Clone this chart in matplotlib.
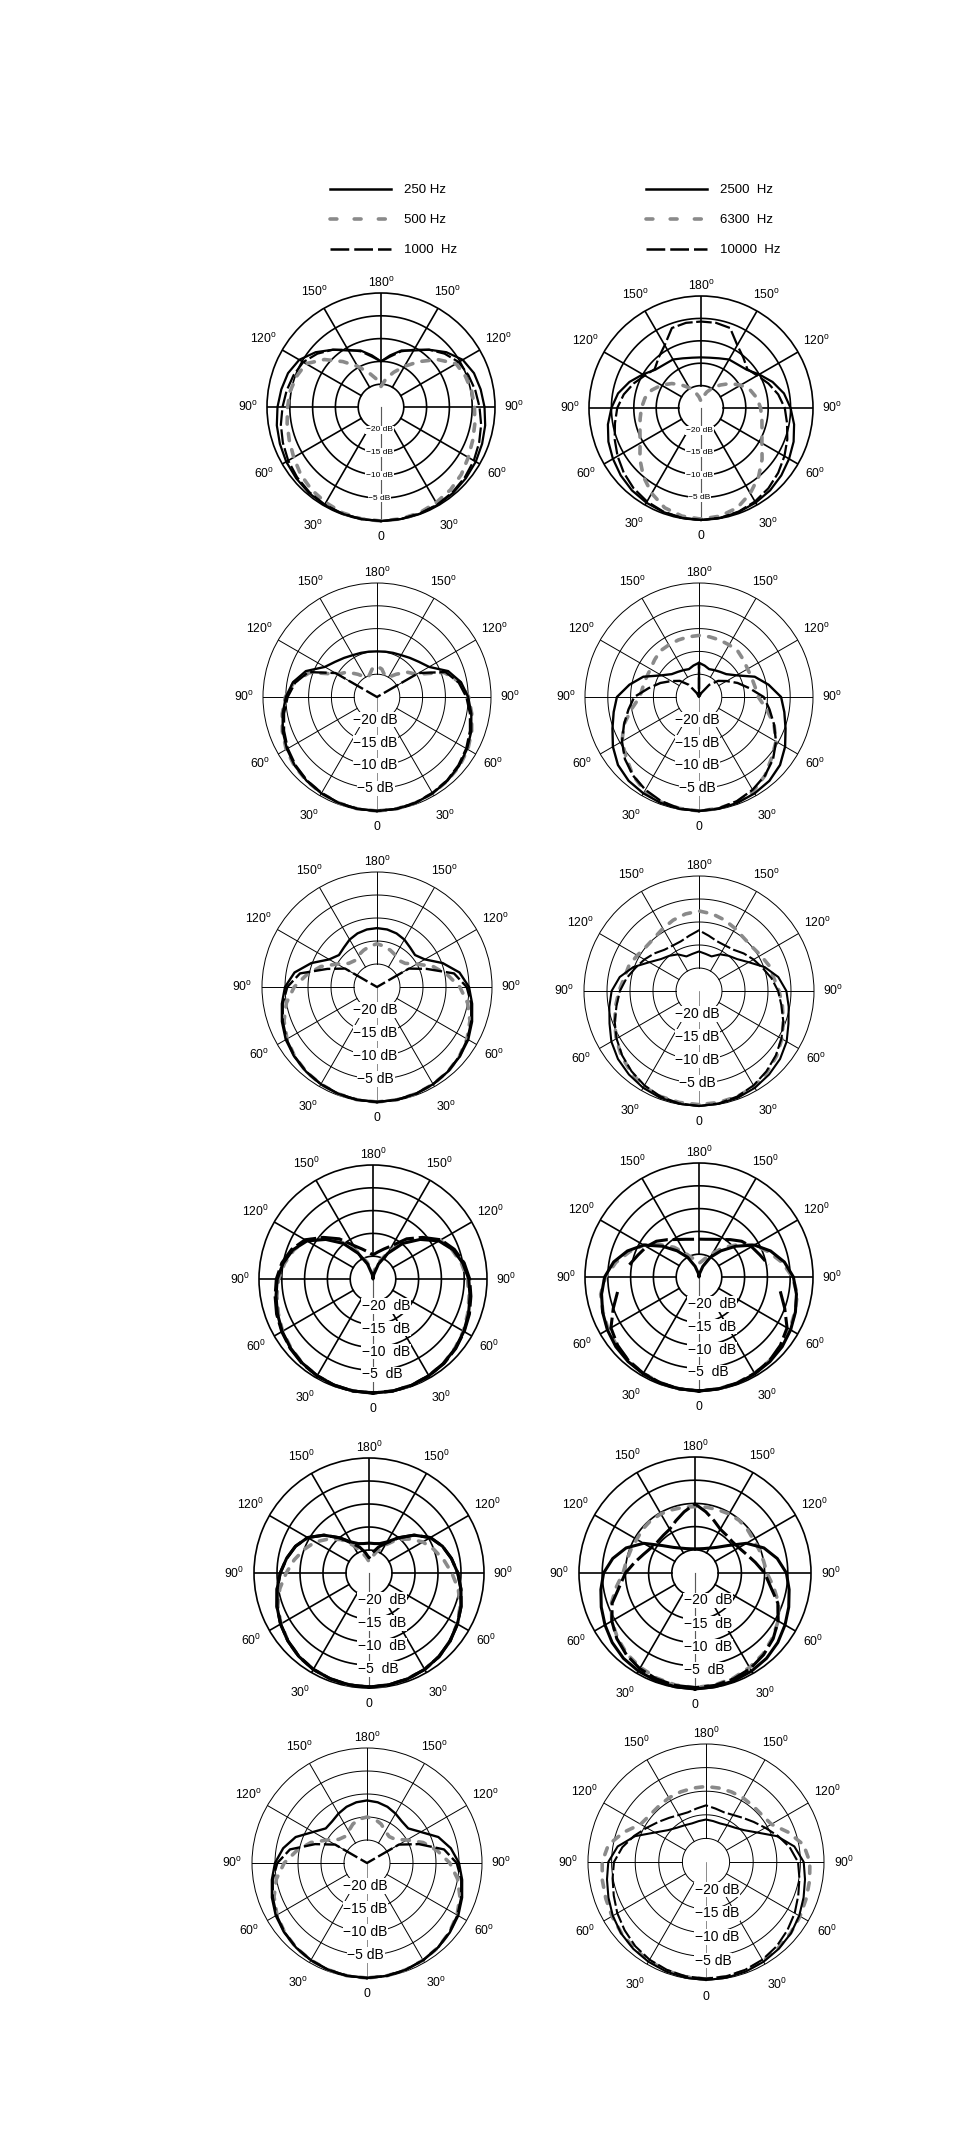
import numpy as np
import matplotlib
matplotlib.use('Agg')
import matplotlib.pyplot as plt
from matplotlib.lines import Line2D

plt.rcParams['font.family'] = ['Liberation Sans', 'DejaVu Sans']
plt.rcParams['mathtext.fontset'] = 'custom'
plt.rcParams['mathtext.rm'] = 'Liberation Sans'

# ---------------------------------------------------------------------------
# data: level in dB at 0, 10, ..., 180 degrees (0 = front), mirrored for the
# other half of each diagram
half_deg = np.arange(0, 181, 10)

freqs_low = ['250 Hz', '500 Hz', '1000  Hz']
freqs_high = ['2500  Hz', '6300  Hz', '10000  Hz']

ring_db = [-20, -15, -10, -5]
spoke_deg = [0, 30, 60, 90, 120, 150, 180, 210, 240, 270, 300, 330]
angle_ticks = [0, 30, 60, 90, 120, 150, 180]

# row 1
r1l_250 = [0, -0.05, -0.1, -0.2, -0.4, -0.7, -1.0, -1.4, -1.8, -2.3, -2.8, -3.3, -4.3, -6.3, -8.6, -10.7, -11.8, -13.5, -15.0]
r1l_500 = [0, -0.1, -0.3, -0.8, -1.3, -2.0, -2.9, -3.6, -4.1, -4.5, -4.8, -5.3, -6.0, -8.8, -12.0, -14.7, -16.9, -18.7, -20.5]
r1l_1000 = [0, -0.05, -0.15, -0.3, -0.6, -1.0, -1.5, -2.1, -2.7, -3.4, -4.0, -4.6, -5.3, -6.8, -8.6, -10.5, -12.0, -13.8, -15.0]
r1r_2500 = [0, -0.1, -0.3, -0.6, -1.0, -1.6, -2.3, -3.0, -3.9, -5.0, -6.2, -8.0, -10.0, -11.7, -12.3, -12.5, -13.2, -13.6, -13.7]
r1r_6300 = [-0.2, -0.5, -1.3, -3.0, -5.0, -7.2, -9.3, -10.5, -11.2, -11.7, -12.3, -13.3, -14.8, -16.5, -18.3, -19.8, -21.2, -22.5, -23.5]
r1r_10000 = [0, -0.1, -0.4, -0.9, -1.6, -2.5, -3.5, -4.5, -5.5, -6.3, -7.5, -9.0, -10.5, -11.5, -10.3, -8.8, -6.0, -5.7, -5.7]

# row 2
r2l_250 = [0, -0.1, -0.3, -0.6, -1.0, -1.5, -2.2, -3.0, -4.0, -5.0, -6.3, -8.4, -11.8, -13.0, -13.8, -14.4, -14.7, -14.9, -15.0]
r2l_500 = [0, -0.1, -0.3, -0.6, -1.0, -1.4, -2.0, -2.9, -3.9, -4.9, -6.5, -9.3, -15.0, -16.5, -18.5, -20.0, -20.0, -18.8, -18.2]
r2l_1000 = [0, -0.1, -0.3, -0.7, -1.1, -1.7, -2.4, -3.3, -4.3, -5.4, -6.8, -9.0, -14.5, -25.0, -25.0, -25.0, -25.0, -25.0, -25.0]
r2r_2500 = [0, -0.1, -0.3, -0.6, -1.0, -1.8, -3.2, -4.8, -6.0, -7.0, -9.5, -12.0, -15.5, -17.2, -17.8, -18.2, -18.5, -18.0, -17.5]
r2r_6300 = [0, -0.2, -0.5, -1.2, -2.5, -4.2, -5.5, -7.5, -10.0, -12.0, -12.5, -12.7, -12.7, -12.3, -11.8, -11.8, -11.7, -11.6, -11.5]
r2r_10000 = [0, -0.2, -0.7, -1.5, -2.5, -3.8, -5.5, -7.5, -9.3, -10.8, -13.8, -16.0, -18.0, -19.5, -21.5, -24.0, -25.0, -25.0, -17.5]

# row 3
r3l_250 = [0, -0.1, -0.3, -0.6, -1.0, -1.5, -2.1, -3.0, -4.0, -5.0, -6.8, -9.8, -13.0, -14.2, -13.8, -13.1, -12.6, -12.3, -12.2]
r3l_500 = [0, -0.1, -0.3, -0.6, -1.0, -1.6, -2.4, -3.5, -5.0, -7.0, -9.5, -12.0, -15.0, -17.0, -17.5, -17.0, -16.5, -16.0, -15.6]
r3l_1000 = [0, -0.1, -0.3, -0.6, -1.0, -1.6, -2.3, -3.2, -4.2, -5.5, -8.0, -13.5, -17.0, -25.0, -25.0, -25.0, -25.0, -25.0, -25.0]
r3r_2500 = [0, -0.1, -0.3, -0.7, -1.3, -2.0, -3.0, -4.3, -5.2, -6.0, -7.5, -9.8, -12.5, -14.2, -15.0, -15.8, -17.0, -16.8, -16.4]
r3r_6300 = [-0.3, -0.4, -0.6, -1.0, -2.0, -3.0, -4.2, -5.5, -6.6, -7.6, -8.5, -8.8, -9.5, -10.0, -9.9, -9.3, -8.6, -8.0, -7.6]
r3r_10000 = [0, -0.2, -0.6, -1.3, -2.2, -3.2, -4.3, -5.5, -6.8, -7.8, -9.0, -10.3, -11.3, -12.3, -13.3, -13.6, -13.5, -12.8, -11.8]

# row 4
r4l_250 = [0, -0.05, -0.2, -0.5, -0.9, -1.4, -2.0, -2.7, -3.4, -4.0, -5.0, -6.3, -8.3, -11.5, -14.8, -18.5, -21.5, -24.0, -25.0]
r4l_500 = [0, -0.05, -0.2, -0.5, -0.9, -1.5, -2.1, -2.9, -3.6, -4.3, -5.3, -6.5, -8.0, -11.0, -14.5, -18.0, -21.0, -23.0, -24.0]
r4l_1000 = [0, -0.05, -0.2, -0.5, -0.8, -1.3, -1.9, -2.5, -3.2, -3.8, -4.7, -6.0, -7.8, -10.8, -13.5, -16.5, -18.0, -19.0, -19.7]
r4r_2500 = [0, -0.1, -0.2, -0.5, -0.8, -1.2, -1.8, -2.5, -3.3, -4.3, -6.0, -8.3, -11.0, -14.5, -17.5, -20.0, -22.5, -24.2, -25.0]
r4r_6300 = [0, -0.1, -0.3, -0.6, -1.0, -1.5, -2.0, -2.6, -3.1, -4.5, -6.5, -8.8, -11.0, -14.0, -16.5, -19.0, -20.5, -21.5, -22.0]
r4r_10000 = [0, -0.1, -0.3, -0.6, -1.0, -1.7, -2.7, -5.0, -6.9, np.nan, -9.5, -10.8, -11.7, -12.8, -14.3, -15.5, -16.2, -16.6, -16.7]

# row 5
r5l_250 = [-0.2, -0.3, -0.5, -0.8, -1.3, -2.0, -2.8, -3.7, -4.7, -5.7, -6.8, -8.0, -9.6, -12.2, -15.0, -17.2, -18.2, -18.5, -18.5]
r5l_500 = [-0.2, -0.3, -0.5, -0.8, -1.3, -2.0, -2.9, -3.9, -5.3, -7.0, -8.5, -10.0, -11.5, -13.5, -15.5, -18.0, -20.0, -21.5, -22.5]
r5l_1000 = [-0.2, -0.3, -0.5, -0.8, -1.3, -2.0, -2.8, -3.7, -4.7, -5.7, -6.8, -8.0, -9.6, -12.2, -15.0, -17.5, -19.0, -20.5, -21.7]
r5r_2500 = [0, -0.1, -0.3, -0.6, -1.0, -1.7, -2.6, -3.5, -4.4, -5.3, -7.0, -9.2, -12.2, -15.8, -17.8, -18.8, -19.4, -19.7, -19.8]
r5r_6300 = [-0.3, -0.5, -0.9, -1.5, -2.2, -3.2, -4.3, -5.8, -7.8, -9.5, -10.0, -10.3, -10.5, -10.3, -10.2, -10.3, -10.5, -10.6, -10.7]
r5r_10000 = [-0.3, -0.4, -0.7, -1.2, -2.0, -3.0, -4.3, -6.0, -8.5, -10.0, -11.8, -13.2, -14.1, -14.5, -14.4, -14.1, -13.0, -11.6, -10.1]

# row 6
r6l_250 = [0, -0.1, -0.3, -0.6, -1.0, -1.5, -2.1, -3.0, -4.0, -5.0, -6.5, -8.5, -11.5, -13.3, -13.2, -12.6, -12.0, -11.6, -11.4]
r6l_500 = [0, -0.1, -0.3, -0.6, -1.0, -1.6, -2.4, -3.5, -5.0, -7.0, -9.5, -12.0, -15.0, -17.0, -17.5, -17.0, -16.0, -15.3, -15.0]
r6l_1000 = [0, -0.1, -0.3, -0.6, -1.0, -1.6, -2.3, -3.2, -4.2, -5.5, -8.0, -13.0, -17.0, -25.0, -25.0, -25.0, -25.0, -25.0, -25.0]
r6r_2500 = [0, -0.1, -0.3, -0.6, -1.0, -1.5, -2.2, -3.0, -3.7, -4.3, -6.0, -9.0, -12.5, -14.5, -15.5, -16.0, -16.3, -16.2, -16.0]
r6r_6300 = [-0.2, -0.3, -0.5, -0.8, -1.2, -1.6, -2.0, -2.4, -2.7, -3.0, -4.0, -6.5, -9.0, -9.5, -9.5, -9.3, -9.2, -9.1, -9.0]
r6r_10000 = [-0.3, -0.4, -0.7, -1.1, -1.7, -2.5, -3.3, -4.2, -4.9, -5.5, -7.0, -8.8, -10.5, -11.8, -12.8, -13.5, -13.8, -13.5, -13.0]

# ---------------------------------------------------------------------------
W, H = 954, 2147
R_MIN = -25.0
GRAY = '#8a8a8a'

fig = plt.figure(figsize=(W / 100, H / 100), dpi=100)


def curve_styles(lw):
    # solid / gray dashed / long dashed, same order as the legends
    return [dict(color='k', lw=lw, ls='-', zorder=4),
            dict(color=GRAY, lw=2.6, ls=(0, (2.0, 2.6)), dash_capstyle='round', zorder=3),
            dict(color='k', lw=lw, ls=(0, (7, 1.6)), zorder=4)]


lab_factor = {0: 1.14, 30: 1.2, 60: 1.18, 90: 1.17, 120: 1.19, 150: 1.17, 180: 1.09}


def draw_panel(cx, cy, rad, curves, grid_lw, curve_lw, lab_fs, lab_mode, deg, dbgap):
    ax = fig.add_axes([(cx - rad) / W, 1 - (cy + rad) / H, 2 * rad / W, 2 * rad / H],
                      projection='polar')
    ax.set_theta_zero_location('S')
    ax.set_theta_direction(-1)
    ax.set_ylim(R_MIN, 0)
    ax.set_xticks([])
    ax.set_yticks([])
    ax.grid(False)
    ax.spines['polar'].set_linewidth(grid_lw)

    # rings and spokes
    tt = np.linspace(0, 2 * np.pi, 361)
    for lev in ring_db:
        ax.plot(tt, np.full_like(tt, lev), color='k', lw=grid_lw, zorder=1)
    for a in spoke_deg:
        t = np.deg2rad(a)
        if a == 0:
            ax.plot([t, t], [R_MIN, 0], color='0.35', lw=grid_lw * 0.7, zorder=1)
        else:
            ax.plot([t, t], [ring_db[0], 0], color='k', lw=grid_lw, zorder=1)

    # dB labels along the front axis
    for lev in ring_db:
        txt = '\u2212%d%sdB' % (abs(lev), dbgap)
        if lab_mode == 'center':
            ax.annotate(txt, xy=(0, lev), xytext=(-1, 0), textcoords='offset points',
                        ha='center', va='center', fontsize=lab_fs, zorder=2,
                        bbox=dict(fc='white', ec='none', pad=0.5))
        else:
            ax.annotate(txt, xy=(0, lev), xytext=(-8, -3), textcoords='offset points',
                        ha='left', va='center', fontsize=lab_fs, zorder=2,
                        bbox=dict(fc='white', ec='none', pad=0.5))

    # angle labels
    for a in angle_ticks:
        r = R_MIN + (0 - R_MIN) * lab_factor[a]
        s = '0' if a == 0 else '%d$^{\\mathrm{%s}}$' % (a, deg)
        sides = [a] if a in (0, 180) else [a, 360 - a]
        for b in sides:
            ax.text(np.deg2rad(b), r, s, ha='center', va='center', fontsize=8.8)

    # curves
    theta = np.deg2rad(np.arange(0, 361, 10))
    for vals, st in zip(curves, curve_styles(curve_lw)):
        half = np.asarray(vals, dtype=float)
        full = np.concatenate([half, half[-2::-1]])
        full = np.clip(full, R_MIN, 0)
        ax.plot(theta, full, clip_on=False, **st)
    return ax


O = 'o'
Z = '0'
panels = [
    (381, 407, 114, [r1l_250, r1l_500, r1l_1000], 1.2, 1.6, 6, 'center', O, ' '),
    (701, 408, 112, [r1r_2500, r1r_6300, r1r_10000], 1.2, 1.6, 6, 'center', O, ' '),
    (377, 697, 114, [r2l_250, r2l_500, r2l_1000], 0.7, 1.7, 10, 'center', O, ' '),
    (699, 697, 114, [r2r_2500, r2r_6300, r2r_10000], 0.7, 1.7, 10, 'center', O, ' '),
    (377, 987, 115, [r3l_250, r3l_500, r3l_1000], 0.7, 1.7, 10, 'center', O, ' '),
    (699, 991, 115, [r3r_2500, r3r_6300, r3r_10000], 0.7, 1.5, 10, 'center', O, ' '),
    (373, 1279, 114, [r4l_250, r4l_500, r4l_1000], 1.2, 2.2, 10, 'left', Z, '  '),
    (699, 1277, 114, [r4r_2500, r4r_6300, r4r_10000], 1.2, 2.2, 10, 'left', Z, '  '),
    (369, 1573, 115, [r5l_250, r5l_500, r5l_1000], 1.2, 2.2, 10, 'left', Z, '  '),
    (695, 1573, 116, [r5r_2500, r5r_6300, r5r_10000], 1.2, 2.2, 10, 'left', Z, '  '),
    (367, 1863, 115, [r6l_250, r6l_500, r6l_1000], 0.7, 1.7, 10, 'center', O, ' '),
    (706, 1862, 118, [r6r_2500, r6r_6300, r6r_10000], 0.7, 1.5, 10, 'left', Z, ' '),
]

for p in panels:
    draw_panel(*p)

# legends
handles = [Line2D([], [], color='k', lw=1.8, ls='-'),
           Line2D([], [], color=GRAY, lw=2.6, ls=(0, (1.9, 4.8)), dash_capstyle='round'),
           Line2D([], [], color='k', lw=1.8, ls=(0, (7.5, 2.0)))]
for labels, x0 in ((freqs_low, 330), (freqs_high, 646)):
    fig.legend(handles, labels, loc='upper left', bbox_to_anchor=(x0 / W, 1 - 184 / H),
               frameon=False, borderpad=0, borderaxespad=0, handlelength=4.6,
               handletextpad=1.0, labelspacing=1.35, fontsize=9.5)

fig.savefig('out.png', dpi=100)
